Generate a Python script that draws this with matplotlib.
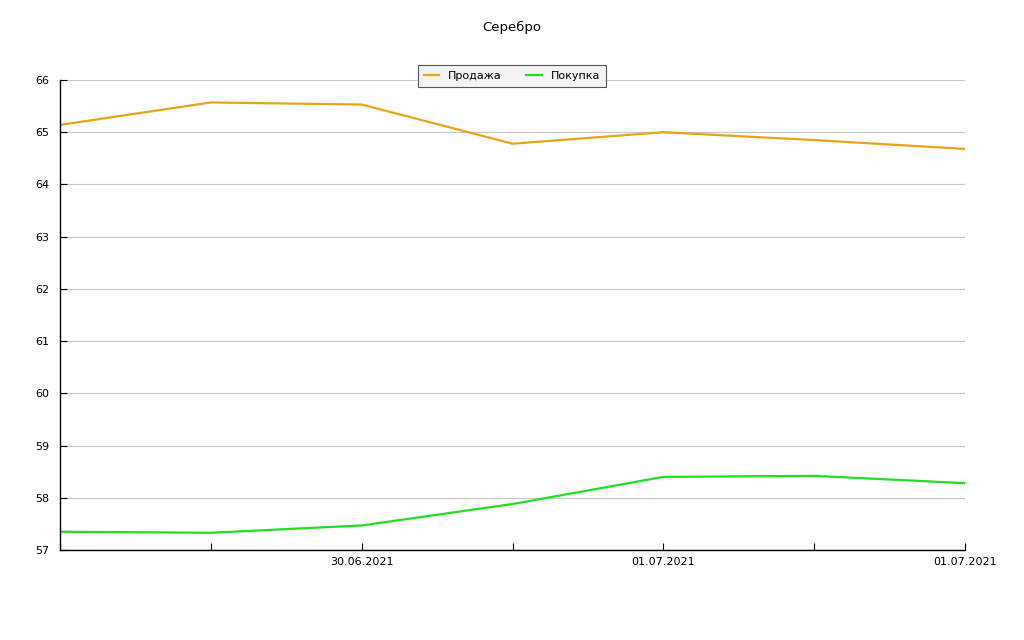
import matplotlib.pyplot as plt

# data
x_idx = [0, 1, 2, 3, 4, 5, 6]
x_labels = ['', '', '30.06.2021', '', '01.07.2021', '', '01.07.2021']
sale = [65.14, 65.57, 65.53, 64.78, 65.00, 64.85, 64.68]
buy = [57.35, 57.33, 57.47, 57.88, 58.40, 58.42, 58.28]

fig = plt.figure(figsize=(10.24, 6.4), dpi=100)
ax = fig.add_axes([60/1024, 90/640, 905/1024, 470/640])

ax.plot(x_idx, sale, color='#e8a317', linewidth=1.6, label='Продажа')
ax.plot(x_idx, buy, color='#22dd22', linewidth=1.6, label='Покупка')

ax.set_xlim(0, 6)
ax.set_ylim(57, 66)
ax.set_yticks(range(57, 67))
ax.set_xticks(x_idx)
ax.set_xticklabels(x_labels)
ax.yaxis.grid(True, color='#c8c8c8', linewidth=0.9)
ax.set_axisbelow(True)

for s in ['top', 'right']:
    ax.spines[s].set_visible(False)
for s in ['left', 'bottom']:
    ax.spines[s].set_linewidth(1.0)
    ax.spines[s].set_color('black')

ax.tick_params(axis='x', direction='in', length=5, labelsize=8, pad=5)
ax.tick_params(axis='y', direction='in', length=5, labelsize=8, pad=8)

fig.text(0.5, 1 - 27/640, 'Серебро', ha='center', va='center', fontsize=9.5)

leg = ax.legend(loc='center', bbox_to_anchor=(512/1024, 1 - 76/640),
                bbox_transform=fig.transFigure, ncol=2, fontsize=8,
                fancybox=False, frameon=True, handlelength=1.4,
                columnspacing=2.2, borderpad=0.5)
leg.get_frame().set_edgecolor('#555555')
leg.get_frame().set_facecolor('#f4f4f4')
leg.get_frame().set_alpha(1)
leg.get_frame().set_linewidth(0.8)

plt.savefig('out.png', dpi=100)
